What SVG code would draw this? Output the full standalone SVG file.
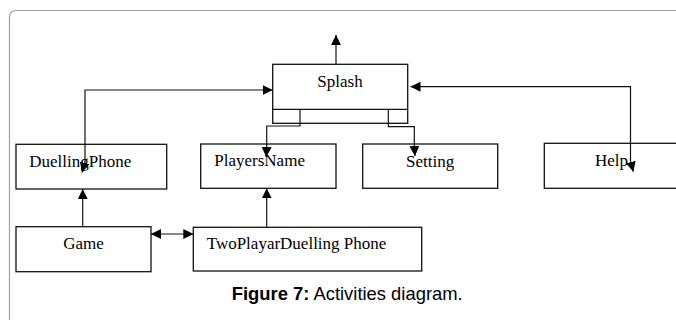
<svg xmlns="http://www.w3.org/2000/svg" width="676" height="320" viewBox="0 0 676 320">
<defs>
<marker id="ah" viewBox="0 0 10 10" refX="10" refY="5" markerWidth="10" markerHeight="10" markerUnits="userSpaceOnUse" orient="auto-start-reverse">
<path d="M0,0 L10,5 L0,10 Z" fill="#000"/>
</marker>
<style>
.box{fill:#fff;stroke:#111;stroke-width:1.3}
.lbl{font-family:"Liberation Serif","Times New Roman",serif;font-size:17px;fill:#000}
.ln{fill:none;stroke:#111;stroke-width:1.2}
.cap{font-family:"Liberation Sans",Arial,sans-serif;font-size:18.4px;fill:#000}
</style>
</defs>
<rect width="676" height="320" fill="#fff"/>
<rect x="9.5" y="10.5" width="700" height="340" rx="6" fill="none" stroke="#a0a0a0" stroke-width="1.2"/>

<g id="splash">
<rect class="box" x="272.7" y="64.3" width="135" height="59"/>
<line class="ln" x1="272.7" y1="109.3" x2="407.7" y2="109.3"/>
<line class="ln" x1="300" y1="109.3" x2="300" y2="123.3"/>
<line class="ln" x1="388.3" y1="109.3" x2="388.3" y2="123.3"/>
<text class="lbl" x="317.3" y="86.7">Splash</text>
</g>
<g id="duellingphone">
<rect class="box" x="16" y="144.3" width="150.7" height="44.7"/>
<text class="lbl" x="29.3" y="166.7">DuellingPhone</text>
</g>
<g id="playersname">
<rect class="box" x="200.7" y="144" width="135.3" height="44.3"/>
<text class="lbl" x="214.3" y="166.3">PlayersName</text>
</g>
<g id="setting">
<rect class="box" x="362.7" y="144" width="135" height="44.3"/>
<text class="lbl" x="406" y="166.7">Setting</text>
</g>
<g id="help">
<rect class="box" x="544.3" y="143.3" width="150" height="45"/>
<text class="lbl" x="595" y="166.3">Help</text>
</g>
<g id="game">
<rect class="box" x="16" y="226.7" width="135" height="45"/>
<text class="lbl" x="63.3" y="249.3">Game</text>
</g>
<g id="twoplayar">
<rect class="box" x="193.3" y="227.3" width="228.4" height="43.7"/>
<text class="lbl" x="206.7" y="249.3">TwoPlayarDuelling Phone</text>
</g>

<g id="connectors">
<path class="ln" d="M336,64.3 V35" marker-end="url(#ah)"/>
<path class="ln" d="M272.7,90 H85 V162 L82,172.5" marker-start="url(#ah)" marker-end="url(#ah)"/>
<path class="ln" d="M300,123.3 V126 H266.7 V147 L266.2,157" marker-end="url(#ah)"/>
<path class="ln" d="M388.3,123.3 V126.7 H414.3 V145 L415,156" marker-end="url(#ah)"/>
<path class="ln" d="M410.5,86.7 H630.5 V161 L633.3,171.7" marker-start="url(#ah)" marker-end="url(#ah)"/>
<path class="ln" d="M82.7,226.7 V189" marker-end="url(#ah)"/>
<path class="ln" d="M266.7,227.3 V188.3" marker-end="url(#ah)"/>
<path class="ln" d="M151,234 H193.3" marker-start="url(#ah)" marker-end="url(#ah)"/>
</g>

<text class="cap" x="231.7" y="300"><tspan font-weight="bold">Figure 7:</tspan> Activities diagram.</text>
</svg>
